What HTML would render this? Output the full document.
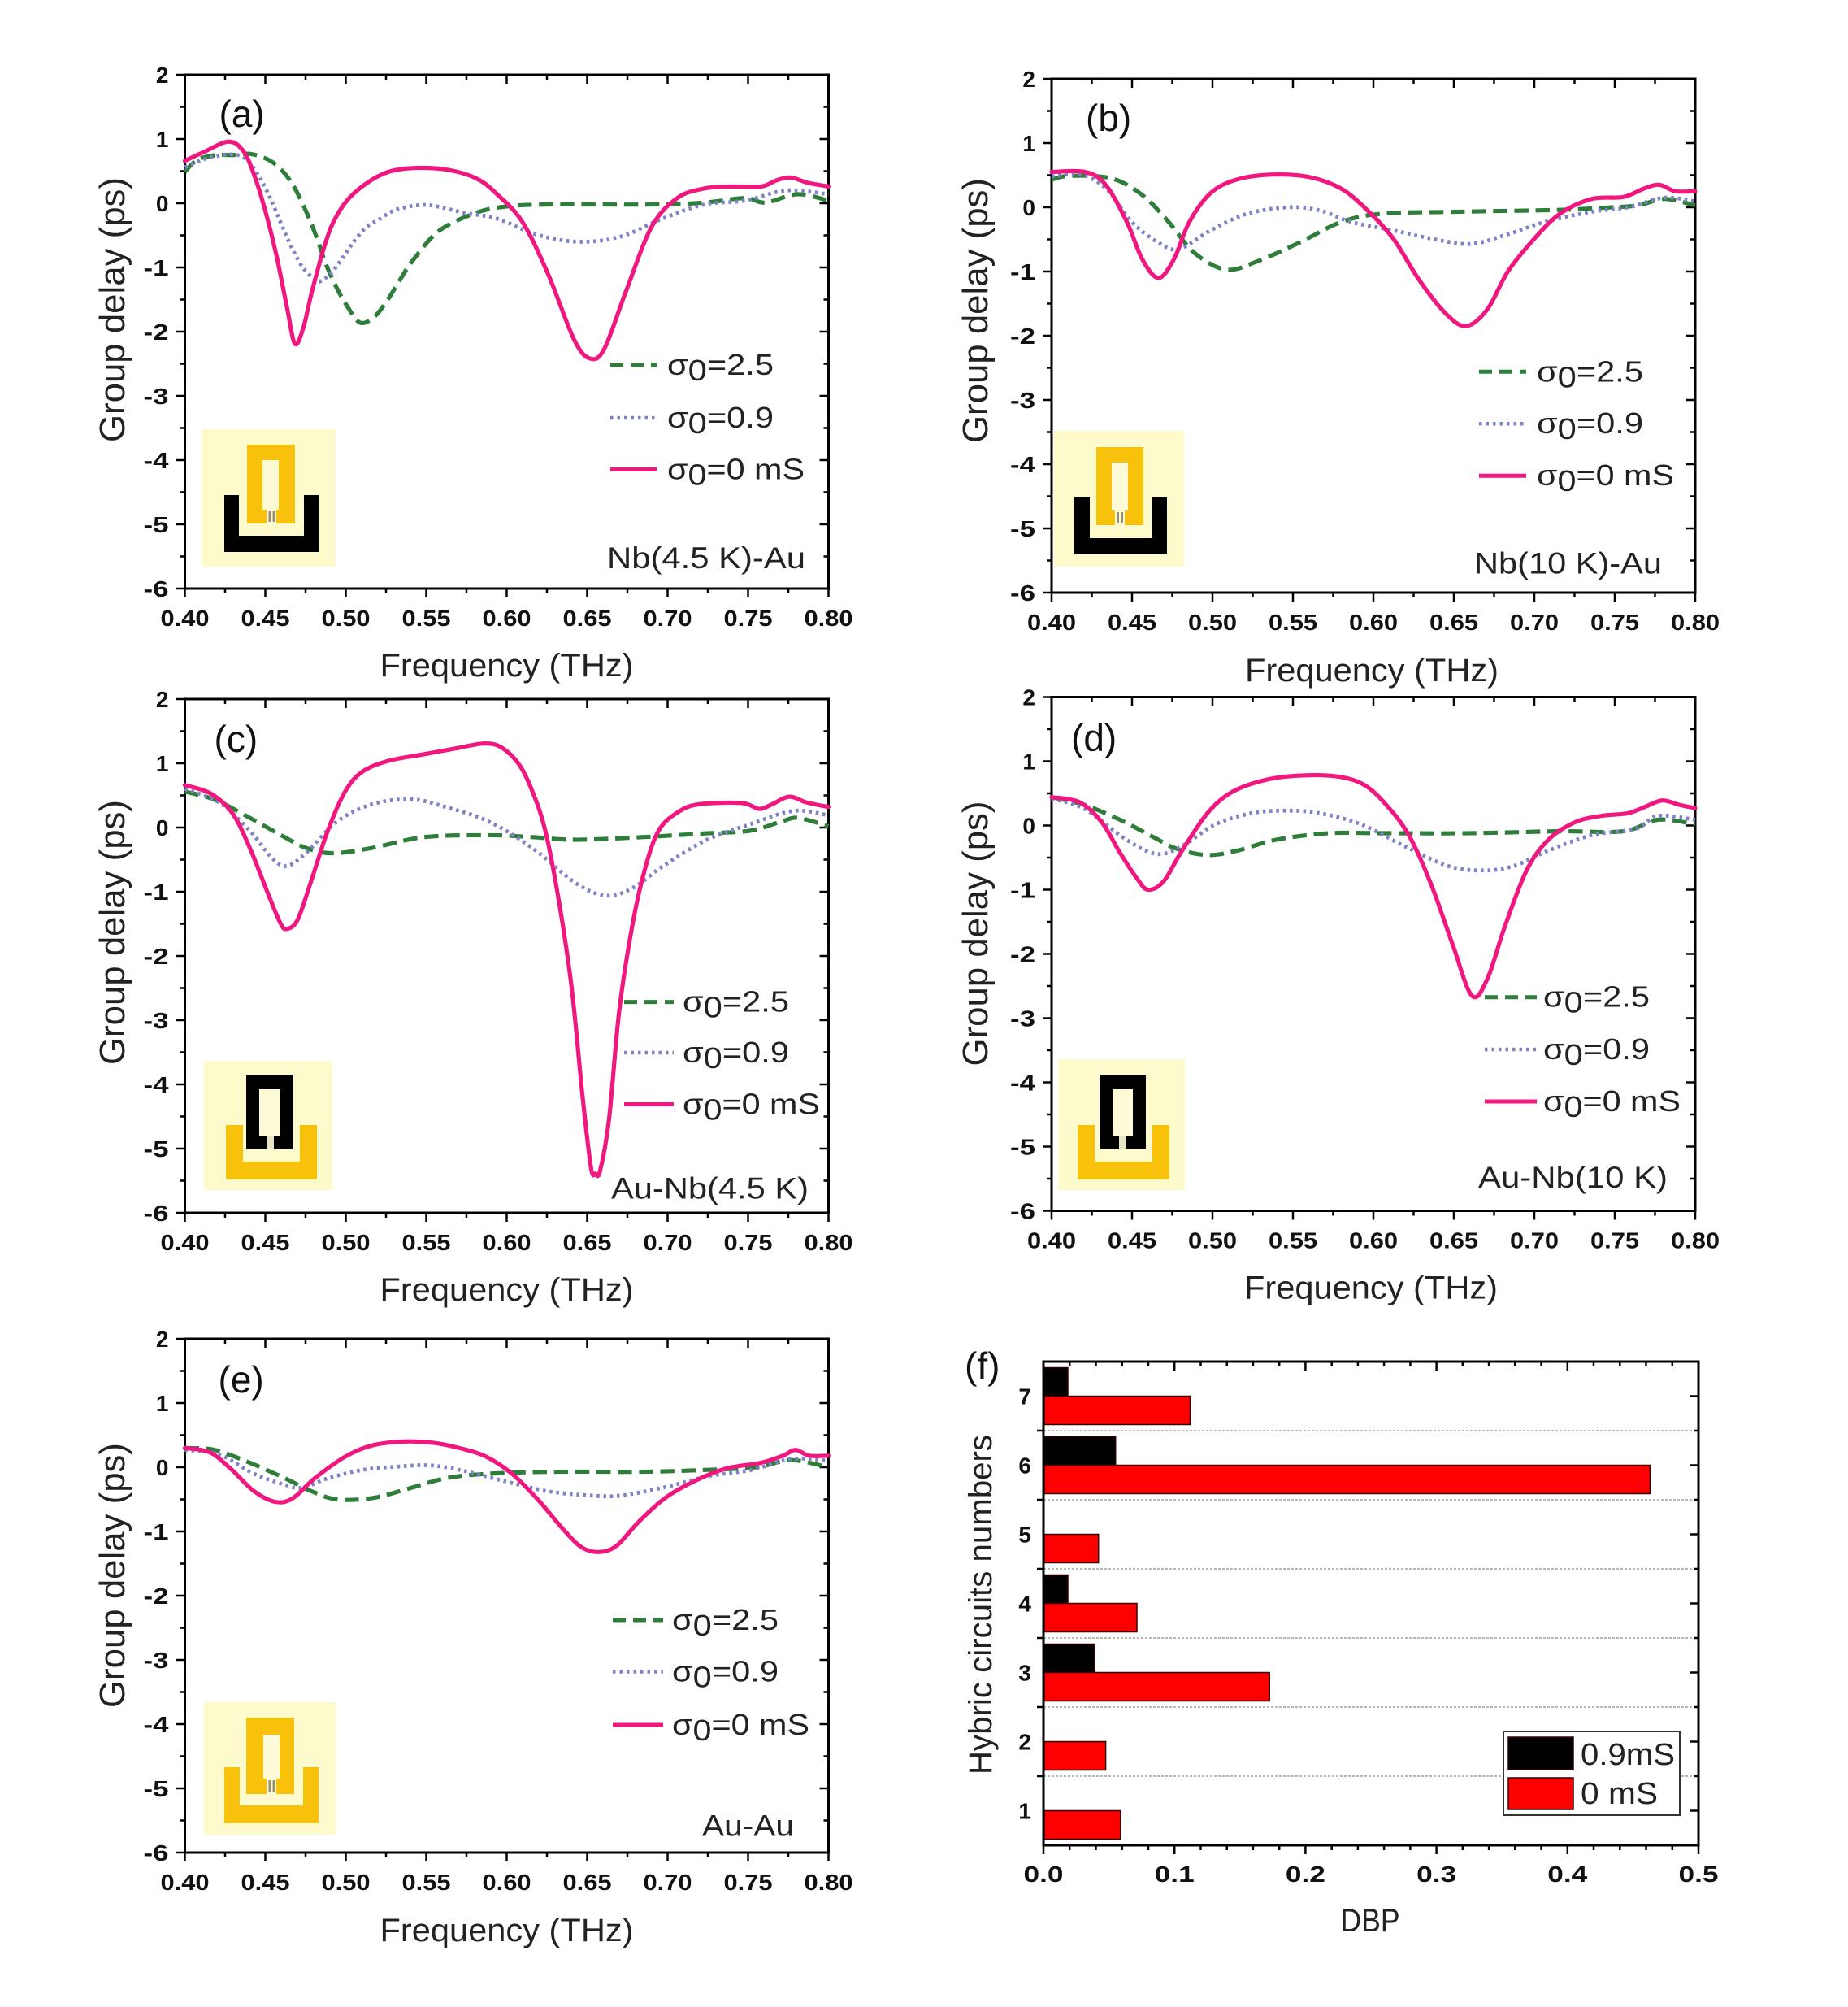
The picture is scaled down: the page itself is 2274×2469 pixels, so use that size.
<!DOCTYPE html>
<html><head><meta charset="utf-8"><style>
html,body{margin:0;padding:0;background:#fff}
svg{display:block}
.tk{font-family:"Liberation Sans",Arial,sans-serif;font-weight:bold;font-size:28px;fill:#111}
.ax{font-family:"Liberation Sans",Arial,sans-serif;font-size:40px;fill:#222}
.lb{font-family:"Liberation Sans",Arial,sans-serif;font-size:46px;fill:#111}
.an{font-family:"Liberation Sans",Arial,sans-serif;font-size:37px;fill:#222}
.lg{font-family:"Liberation Sans",Arial,sans-serif;font-size:36px;fill:#222}
.pk{fill:none;stroke:#f0177f;stroke-width:6.5;stroke-linejoin:round;stroke-linecap:round}
.gr{fill:none;stroke:#2f7d3b;stroke-width:6.5;stroke-dasharray:22 11;stroke-linejoin:round}
.bl{fill:none;stroke:#7f83c4;stroke-width:6;stroke-dasharray:4.5 6;stroke-linejoin:round}
.lpk{stroke:#f0177f;stroke-width:5}
.lgr{stroke:#2f7d3b;stroke-width:5;stroke-dasharray:16 9}
.lbl{stroke:#7f83c4;stroke-width:4.5;stroke-dasharray:3.5 5}
</style></head><body>
<svg xmlns="http://www.w3.org/2000/svg" xmlns:xlink="http://www.w3.org/1999/xlink" width="2274" height="2469" viewBox="0 0 2274 2469">
<defs>
<g id="fr">
<rect x="0" y="0" width="792" height="632" fill="none" stroke="#000" stroke-width="3"/>
<path fill="none" stroke="#000" stroke-width="2.5" d="M-11 0H0M-11 79H0M-11 158H0M-11 237H0M-11 316H0M-11 395H0M-11 474H0M-11 553H0M-11 632H0
M-6 39.5H0M-6 118.5H0M-6 197.5H0M-6 276.5H0M-6 355.5H0M-6 434.5H0M-6 513.5H0M-6 592.5H0
M781 79H792M781 158H792M781 237H792M781 316H792M781 395H792M781 474H792M781 553H792
M786 39.5H792M786 118.5H792M786 197.5H792M786 276.5H792M786 355.5H792M786 434.5H792M786 513.5H792M786 592.5H792
M0 632V643M99 632V643M198 632V643M297 632V643M396 632V643M495 632V643M594 632V643M693 632V643M792 632V643
M49.5 632V638M148.5 632V638M247.5 632V638M346.5 632V638M445.5 632V638M544.5 632V638M643.5 632V638M742.5 632V638
M99 0V11M198 0V11M297 0V11M396 0V11M495 0V11M594 0V11M693 0V11
M49.5 0V6M148.5 0V6M247.5 0V6M346.5 0V6M445.5 0V6M544.5 0V6M643.5 0V6M742.5 0V6"/>
</g>
</defs>

<!-- ================= PANEL (a) ================= -->
<g transform="translate(227.5,92)">
<use xlink:href="#fr"/>
<g class="tk">
<text x="-20" y="10" text-anchor="end">2</text>
<text x="-20" y="89" text-anchor="end">1</text>
<text x="-20" y="168" text-anchor="end">0</text>
<text x="-20" y="247" text-anchor="end" textLength="31" lengthAdjust="spacingAndGlyphs">-1</text>
<text x="-20" y="326" text-anchor="end" textLength="31" lengthAdjust="spacingAndGlyphs">-2</text>
<text x="-20" y="405" text-anchor="end" textLength="31" lengthAdjust="spacingAndGlyphs">-3</text>
<text x="-20" y="484" text-anchor="end" textLength="31" lengthAdjust="spacingAndGlyphs">-4</text>
<text x="-20" y="563" text-anchor="end" textLength="31" lengthAdjust="spacingAndGlyphs">-5</text>
<text x="-20" y="642" text-anchor="end" textLength="31" lengthAdjust="spacingAndGlyphs">-6</text>
<text x="-30" y="678" textLength="60" lengthAdjust="spacingAndGlyphs">0.40</text>
<text x="69" y="678" textLength="60" lengthAdjust="spacingAndGlyphs">0.45</text>
<text x="168" y="678" textLength="60" lengthAdjust="spacingAndGlyphs">0.50</text>
<text x="267" y="678" textLength="60" lengthAdjust="spacingAndGlyphs">0.55</text>
<text x="366" y="678" textLength="60" lengthAdjust="spacingAndGlyphs">0.60</text>
<text x="465" y="678" textLength="60" lengthAdjust="spacingAndGlyphs">0.65</text>
<text x="564" y="678" textLength="60" lengthAdjust="spacingAndGlyphs">0.70</text>
<text x="663" y="678" textLength="60" lengthAdjust="spacingAndGlyphs">0.75</text>
<text x="762" y="678" textLength="60" lengthAdjust="spacingAndGlyphs">0.80</text>
</g>
<text class="ax" x="240" y="740" textLength="312" lengthAdjust="spacingAndGlyphs">Frequency (THz)</text>
<text class="ax" transform="translate(-74.5,289) rotate(-90)" x="-163" y="0" textLength="326" lengthAdjust="spacingAndGlyphs" style="font-size:44px">Group delay (ps)</text>
<text class="lb" x="42" y="64">(a)</text>
<text class="an" x="519.5" y="607" textLength="244" lengthAdjust="spacingAndGlyphs">Nb(4.5 K)-Au</text>
<line class="lgr" x1="523.5" y1="357" x2="580.5" y2="357"/>
<line class="lbl" x1="523.5" y1="422" x2="580.5" y2="422"/>
<line class="lpk" x1="523.5" y1="485.5" x2="580.5" y2="485.5"/>
<text class="lg" x="593.5" y="369" textLength="131" lengthAdjust="spacingAndGlyphs">σ<tspan dy="7">0</tspan><tspan dy="-7">=2.5</tspan></text>
<text class="lg" x="593.5" y="434" textLength="131" lengthAdjust="spacingAndGlyphs">σ<tspan dy="7">0</tspan><tspan dy="-7">=0.9</tspan></text>
<text class="lg" x="593.5" y="497.5" textLength="169" lengthAdjust="spacingAndGlyphs">σ<tspan dy="7">0</tspan><tspan dy="-7">=0 mS</tspan></text>
<g transform="translate(0,158) scale(0.792,0.79)">
<path class="gr" d="M0,-49 L20,-68 50,-75 75,-75 100,-77 125,-70 146,-56 167,-30 188,12 205,54 218,92 235,130 252,160 272,186 294,177 314,152 335,118 355,88 395,43 452,15 500,5 565,2 725,2 807,-1 870,-8 902,-1 952,-14 1000,-4"/>
<path class="bl" d="M0,-56 L28,-68 58,-75 83,-75 100,-64 117,-39 134,-5 150,33 167,71 184,101 201,118 209,122 226,110 243,88 260,63 281,38 302,25 323,12 344,6 365,3 387,4 435,15 485,24 547,49 612,60 677,52 742,24 807,2 870,-4 935,-20 1000,-14"/>
<path class="pk" d="M0,-66 L30,-80 68,-96 91,-81 108,-43 125,12 142,80 159,164 171,219 184,194 197,139 218,63 235,21 260,-13 302,-43 344,-54 402,-53 452,-39 485,-14 525,30 565,112 605,213 630,242 652,226 685,138 725,37 765,-8 807,-23 847,-26 895,-26 920,-36 942,-40 967,-32 1000,-26"/>
</g>
</g>
<!-- inset a -->
<rect x="248" y="528" width="165" height="169" fill="#fdfacb"/>
<rect x="304" y="547" width="59" height="97" fill="#f8c10c"/>
<rect x="323" y="566" width="20" height="61" fill="#fdfad8"/>
<rect x="328" y="627" width="12" height="17" fill="#fdfad8"/>
<rect x="330.5" y="629" width="2.5" height="13" fill="#9a8f6a"/>
<rect x="335.5" y="629" width="2.5" height="13" fill="#9a8f6a"/>
<path d="M276,609 H294 V659 H374 V609 H392 V679 H276 Z" fill="#000"/>

<!-- ================= PANEL (b) ================= -->
<g transform="translate(1294,97)">
<use xlink:href="#fr"/>
<g class="tk">
<text x="-20" y="10" text-anchor="end">2</text>
<text x="-20" y="89" text-anchor="end">1</text>
<text x="-20" y="168" text-anchor="end">0</text>
<text x="-20" y="247" text-anchor="end" textLength="31" lengthAdjust="spacingAndGlyphs">-1</text>
<text x="-20" y="326" text-anchor="end" textLength="31" lengthAdjust="spacingAndGlyphs">-2</text>
<text x="-20" y="405" text-anchor="end" textLength="31" lengthAdjust="spacingAndGlyphs">-3</text>
<text x="-20" y="484" text-anchor="end" textLength="31" lengthAdjust="spacingAndGlyphs">-4</text>
<text x="-20" y="563" text-anchor="end" textLength="31" lengthAdjust="spacingAndGlyphs">-5</text>
<text x="-20" y="642" text-anchor="end" textLength="31" lengthAdjust="spacingAndGlyphs">-6</text>
<text x="-30" y="678" textLength="60" lengthAdjust="spacingAndGlyphs">0.40</text>
<text x="69" y="678" textLength="60" lengthAdjust="spacingAndGlyphs">0.45</text>
<text x="168" y="678" textLength="60" lengthAdjust="spacingAndGlyphs">0.50</text>
<text x="267" y="678" textLength="60" lengthAdjust="spacingAndGlyphs">0.55</text>
<text x="366" y="678" textLength="60" lengthAdjust="spacingAndGlyphs">0.60</text>
<text x="465" y="678" textLength="60" lengthAdjust="spacingAndGlyphs">0.65</text>
<text x="564" y="678" textLength="60" lengthAdjust="spacingAndGlyphs">0.70</text>
<text x="663" y="678" textLength="60" lengthAdjust="spacingAndGlyphs">0.75</text>
<text x="762" y="678" textLength="60" lengthAdjust="spacingAndGlyphs">0.80</text>
</g>
<text class="ax" x="238" y="741" textLength="312" lengthAdjust="spacingAndGlyphs">Frequency (THz)</text>
<text class="ax" transform="translate(-79,285) rotate(-90)" x="-163" y="0" textLength="326" lengthAdjust="spacingAndGlyphs" style="font-size:44px">Group delay (ps)</text>
<text class="lb" x="42" y="64">(b)</text>
<text class="an" x="520" y="608.5" textLength="231" lengthAdjust="spacingAndGlyphs">Nb(10 K)-Au</text>
<line class="lgr" x1="526" y1="360.3" x2="584" y2="360.3"/>
<line class="lbl" x1="526" y1="424.2" x2="584" y2="424.2"/>
<line class="lpk" x1="526" y1="488.2" x2="584" y2="488.2"/>
<text class="lg" x="597" y="372.3" textLength="131" lengthAdjust="spacingAndGlyphs">σ<tspan dy="7">0</tspan><tspan dy="-7">=2.5</tspan></text>
<text class="lg" x="597" y="436.2" textLength="131" lengthAdjust="spacingAndGlyphs">σ<tspan dy="7">0</tspan><tspan dy="-7">=0.9</tspan></text>
<text class="lg" x="597" y="500.2" textLength="169" lengthAdjust="spacingAndGlyphs">σ<tspan dy="7">0</tspan><tspan dy="-7">=0 mS</tspan></text>
<g transform="translate(0,158) scale(0.792,0.79)">
<path class="gr" d="M0,-43 L28,-49 93,-45 141,-19 182,23 222,71 271,97 320,84 385,55 450,23 514,10 628,7 790,4 871,0 912,-3 952,-13 1000,-3"/>
<path class="bl" d="M0,-48 L44,-51 85,-29 125,23 166,55 198,65 247,36 304,10 368,0 417,5 466,23 531,36 596,50 652,57 709,42 766,23 839,7 896,0 952,-15 1000,-9"/>
<path class="pk" d="M0,-55 L52,-55 84,-35 117,23 141,81 166,110 190,81 214,23 247,-22 287,-43 344,-51 401,-47 450,-29 490,4 531,49 571,113 612,165 644,185 677,159 709,100 750,49 790,10 839,-13 888,-16 920,-29 944,-35 969,-25 1000,-25"/>
</g>
</g>
<!-- inset b -->
<rect x="1297" y="530" width="160" height="167" fill="#fdfacb"/>
<rect x="1349" y="550" width="58" height="96" fill="#f8c10c"/>
<rect x="1368" y="569" width="20" height="59" fill="#fdfad8"/>
<rect x="1372" y="628" width="12" height="18" fill="#fdfad8"/>
<rect x="1374.5" y="630" width="2.5" height="14" fill="#9a8f6a"/>
<rect x="1379.5" y="630" width="2.5" height="14" fill="#9a8f6a"/>
<path d="M1322,612 H1341 V662 H1417 V612 H1436 V682 H1322 Z" fill="#000"/>

<!-- ================= PANEL (c) ================= -->
<g transform="translate(227.5,860)">
<use xlink:href="#fr"/>
<g class="tk">
<text x="-20" y="10" text-anchor="end">2</text>
<text x="-20" y="89" text-anchor="end">1</text>
<text x="-20" y="168" text-anchor="end">0</text>
<text x="-20" y="247" text-anchor="end" textLength="31" lengthAdjust="spacingAndGlyphs">-1</text>
<text x="-20" y="326" text-anchor="end" textLength="31" lengthAdjust="spacingAndGlyphs">-2</text>
<text x="-20" y="405" text-anchor="end" textLength="31" lengthAdjust="spacingAndGlyphs">-3</text>
<text x="-20" y="484" text-anchor="end" textLength="31" lengthAdjust="spacingAndGlyphs">-4</text>
<text x="-20" y="563" text-anchor="end" textLength="31" lengthAdjust="spacingAndGlyphs">-5</text>
<text x="-20" y="642" text-anchor="end" textLength="31" lengthAdjust="spacingAndGlyphs">-6</text>
<text x="-30" y="678" textLength="60" lengthAdjust="spacingAndGlyphs">0.40</text>
<text x="69" y="678" textLength="60" lengthAdjust="spacingAndGlyphs">0.45</text>
<text x="168" y="678" textLength="60" lengthAdjust="spacingAndGlyphs">0.50</text>
<text x="267" y="678" textLength="60" lengthAdjust="spacingAndGlyphs">0.55</text>
<text x="366" y="678" textLength="60" lengthAdjust="spacingAndGlyphs">0.60</text>
<text x="465" y="678" textLength="60" lengthAdjust="spacingAndGlyphs">0.65</text>
<text x="564" y="678" textLength="60" lengthAdjust="spacingAndGlyphs">0.70</text>
<text x="663" y="678" textLength="60" lengthAdjust="spacingAndGlyphs">0.75</text>
<text x="762" y="678" textLength="60" lengthAdjust="spacingAndGlyphs">0.80</text>
</g>
<text class="ax" x="240" y="740" textLength="312" lengthAdjust="spacingAndGlyphs">Frequency (THz)</text>
<text class="ax" transform="translate(-74.5,287) rotate(-90)" x="-163" y="0" textLength="326" lengthAdjust="spacingAndGlyphs" style="font-size:44px">Group delay (ps)</text>
<text class="lb" x="36" y="65">(c)</text>
<text class="an" x="524.5" y="614.7" textLength="243" lengthAdjust="spacingAndGlyphs">Au-Nb(4.5 K)</text>
<line class="lgr" x1="540.5" y1="372.6" x2="601.5" y2="372.6"/>
<line class="lbl" x1="540.5" y1="435" x2="601.5" y2="435"/>
<line class="lpk" x1="540.5" y1="498.5" x2="601.5" y2="498.5"/>
<text class="lg" x="612.5" y="384.6" textLength="131" lengthAdjust="spacingAndGlyphs">σ<tspan dy="7">0</tspan><tspan dy="-7">=2.5</tspan></text>
<text class="lg" x="612.5" y="447" textLength="131" lengthAdjust="spacingAndGlyphs">σ<tspan dy="7">0</tspan><tspan dy="-7">=0.9</tspan></text>
<text class="lg" x="612.5" y="510.5" textLength="169" lengthAdjust="spacingAndGlyphs">σ<tspan dy="7">0</tspan><tspan dy="-7">=0 mS</tspan></text>
<g transform="translate(0,158) scale(0.792,0.79)">
<path class="gr" d="M0,-56 L47,-43 101,-15 155,15 189,32 229,40 290,32 371,15 473,12 540,15 608,19 709,15 811,9 878,5 926,-9 953,-15 1000,-2"/>
<path class="bl" d="M0,-60 L53,-39 101,5 134,46 158,60 189,39 236,-9 290,-36 351,-44 405,-32 473,-9 540,32 608,87 655,106 696,94 743,60 811,19 878,-5 946,-26 1000,-19"/>
<path class="pk" d="M0,-66 L40,-53 74,-22 101,32 128,100 148,148 158,158 175,144 195,87 222,5 249,-56 276,-87 317,-104 371,-114 425,-124 466,-131 493,-124 520,-97 540,-56 560,5 581,114 601,250 618,420 631,530 638,539 645,535 659,454 675,284 696,148 716,60 736,5 763,-22 797,-36 865,-38 892,-29 912,-36 939,-48 966,-39 1000,-32"/>
</g>
</g>
<!-- inset c -->
<rect x="251" y="1305" width="158" height="159" fill="#fdfacb"/>
<path d="M278,1384 H299 V1429 H369 V1384 H390 V1451 H278 Z" fill="#f8c10c"/>
<rect x="303" y="1322" width="58" height="92" fill="#000"/>
<rect x="319" y="1340" width="26" height="58" fill="#fdfad8"/>
<rect x="328" y="1398" width="9" height="16" fill="#e8e4c8"/>

<!-- ================= PANEL (d) ================= -->
<g transform="translate(1294,857.5)">
<use xlink:href="#fr"/>
<g class="tk">
<text x="-20" y="10" text-anchor="end">2</text>
<text x="-20" y="89" text-anchor="end">1</text>
<text x="-20" y="168" text-anchor="end">0</text>
<text x="-20" y="247" text-anchor="end" textLength="31" lengthAdjust="spacingAndGlyphs">-1</text>
<text x="-20" y="326" text-anchor="end" textLength="31" lengthAdjust="spacingAndGlyphs">-2</text>
<text x="-20" y="405" text-anchor="end" textLength="31" lengthAdjust="spacingAndGlyphs">-3</text>
<text x="-20" y="484" text-anchor="end" textLength="31" lengthAdjust="spacingAndGlyphs">-4</text>
<text x="-20" y="563" text-anchor="end" textLength="31" lengthAdjust="spacingAndGlyphs">-5</text>
<text x="-20" y="642" text-anchor="end" textLength="31" lengthAdjust="spacingAndGlyphs">-6</text>
<text x="-30" y="678" textLength="60" lengthAdjust="spacingAndGlyphs">0.40</text>
<text x="69" y="678" textLength="60" lengthAdjust="spacingAndGlyphs">0.45</text>
<text x="168" y="678" textLength="60" lengthAdjust="spacingAndGlyphs">0.50</text>
<text x="267" y="678" textLength="60" lengthAdjust="spacingAndGlyphs">0.55</text>
<text x="366" y="678" textLength="60" lengthAdjust="spacingAndGlyphs">0.60</text>
<text x="465" y="678" textLength="60" lengthAdjust="spacingAndGlyphs">0.65</text>
<text x="564" y="678" textLength="60" lengthAdjust="spacingAndGlyphs">0.70</text>
<text x="663" y="678" textLength="60" lengthAdjust="spacingAndGlyphs">0.75</text>
<text x="762" y="678" textLength="60" lengthAdjust="spacingAndGlyphs">0.80</text>
</g>
<text class="ax" x="237" y="740" textLength="312" lengthAdjust="spacingAndGlyphs">Frequency (THz)</text>
<text class="ax" transform="translate(-79,291) rotate(-90)" x="-163" y="0" textLength="326" lengthAdjust="spacingAndGlyphs" style="font-size:44px">Group delay (ps)</text>
<text class="lb" x="24" y="66">(d)</text>
<text class="an" x="525" y="603.5" textLength="233" lengthAdjust="spacingAndGlyphs">Au-Nb(10 K)</text>
<line class="lgr" x1="533" y1="369.2" x2="597" y2="369.2"/>
<line class="lbl" x1="533" y1="433.5" x2="597" y2="433.5"/>
<line class="lpk" x1="533" y1="497.5" x2="597" y2="497.5"/>
<text class="lg" x="605" y="381.2" textLength="131" lengthAdjust="spacingAndGlyphs">σ<tspan dy="7">0</tspan><tspan dy="-7">=2.5</tspan></text>
<text class="lg" x="605" y="445.5" textLength="131" lengthAdjust="spacingAndGlyphs">σ<tspan dy="7">0</tspan><tspan dy="-7">=0.9</tspan></text>
<text class="lg" x="605" y="509.5" textLength="169" lengthAdjust="spacingAndGlyphs">σ<tspan dy="7">0</tspan><tspan dy="-7">=0 mS</tspan></text>
<g transform="translate(0,158) scale(0.792,0.79)">
<path class="gr" d="M0,-44 L51,-32 106,-9 160,19 194,36 242,46 289,39 350,22 432,12 514,12 650,12 786,9 888,9 942,-9 1000,-2"/>
<path class="bl" d="M0,-42 L51,-26 106,15 146,39 174,44 208,29 255,-2 310,-19 357,-23 412,-20 480,-2 548,32 616,63 670,70 718,63 772,39 840,15 908,5 942,-15 1000,-9"/>
<path class="pk" d="M0,-44 L44,-36 78,-5 106,42 133,83 150,100 174,87 201,42 242,-19 282,-53 337,-72 391,-78 446,-76 486,-63 520,-32 555,15 589,90 623,185 653,265 677,239 704,158 738,70 772,22 813,-5 854,-15 895,-19 922,-29 949,-39 976,-32 1000,-27"/>
</g>
</g>
<!-- inset d -->
<rect x="1302" y="1303" width="156" height="161" fill="#fdfacb"/>
<path d="M1326,1384 H1347 V1429 H1418 V1384 H1439 V1451 H1326 Z" fill="#f8c10c"/>
<rect x="1353" y="1322" width="57" height="92" fill="#000"/>
<rect x="1369" y="1340" width="25" height="58" fill="#fdfad8"/>
<rect x="1377" y="1398" width="9" height="16" fill="#e8e4c8"/>

<!-- ================= PANEL (e) ================= -->
<g transform="translate(227.5,1647)">
<use xlink:href="#fr"/>
<g class="tk">
<text x="-20" y="10" text-anchor="end">2</text>
<text x="-20" y="89" text-anchor="end">1</text>
<text x="-20" y="168" text-anchor="end">0</text>
<text x="-20" y="247" text-anchor="end" textLength="31" lengthAdjust="spacingAndGlyphs">-1</text>
<text x="-20" y="326" text-anchor="end" textLength="31" lengthAdjust="spacingAndGlyphs">-2</text>
<text x="-20" y="405" text-anchor="end" textLength="31" lengthAdjust="spacingAndGlyphs">-3</text>
<text x="-20" y="484" text-anchor="end" textLength="31" lengthAdjust="spacingAndGlyphs">-4</text>
<text x="-20" y="563" text-anchor="end" textLength="31" lengthAdjust="spacingAndGlyphs">-5</text>
<text x="-20" y="642" text-anchor="end" textLength="31" lengthAdjust="spacingAndGlyphs">-6</text>
<text x="-30" y="678" textLength="60" lengthAdjust="spacingAndGlyphs">0.40</text>
<text x="69" y="678" textLength="60" lengthAdjust="spacingAndGlyphs">0.45</text>
<text x="168" y="678" textLength="60" lengthAdjust="spacingAndGlyphs">0.50</text>
<text x="267" y="678" textLength="60" lengthAdjust="spacingAndGlyphs">0.55</text>
<text x="366" y="678" textLength="60" lengthAdjust="spacingAndGlyphs">0.60</text>
<text x="465" y="678" textLength="60" lengthAdjust="spacingAndGlyphs">0.65</text>
<text x="564" y="678" textLength="60" lengthAdjust="spacingAndGlyphs">0.70</text>
<text x="663" y="678" textLength="60" lengthAdjust="spacingAndGlyphs">0.75</text>
<text x="762" y="678" textLength="60" lengthAdjust="spacingAndGlyphs">0.80</text>
</g>
<text class="ax" x="240" y="741" textLength="312" lengthAdjust="spacingAndGlyphs">Frequency (THz)</text>
<text class="ax" transform="translate(-74.5,291) rotate(-90)" x="-163" y="0" textLength="326" lengthAdjust="spacingAndGlyphs" style="font-size:44px">Group delay (ps)</text>
<text class="lb" x="41" y="66">(e)</text>
<text class="an" x="636.5" y="611.5" textLength="113" lengthAdjust="spacingAndGlyphs">Au-Au</text>
<line class="lgr" x1="526.5" y1="346" x2="588.5" y2="346"/>
<line class="lbl" x1="526.5" y1="409.5" x2="588.5" y2="409.5"/>
<line class="lpk" x1="526.5" y1="475" x2="588.5" y2="475"/>
<text class="lg" x="599.5" y="358" textLength="131" lengthAdjust="spacingAndGlyphs">σ<tspan dy="7">0</tspan><tspan dy="-7">=2.5</tspan></text>
<text class="lg" x="599.5" y="421.5" textLength="131" lengthAdjust="spacingAndGlyphs">σ<tspan dy="7">0</tspan><tspan dy="-7">=0.9</tspan></text>
<text class="lg" x="599.5" y="487" textLength="169" lengthAdjust="spacingAndGlyphs">σ<tspan dy="7">0</tspan><tspan dy="-7">=0 mS</tspan></text>
<g transform="translate(0,158) scale(0.792,0.79)">
<path class="gr" d="M0,-30 L46,-27 101,-7 155,17 196,37 236,50 291,48 345,34 406,17 474,10 576,7 712,7 813,4 888,0 942,-11 1000,0"/>
<path class="bl" d="M0,-27 L53,-20 107,10 155,27 182,32 223,17 277,4 331,-1 379,-3 426,4 494,21 562,37 630,44 678,44 746,31 813,14 881,4 942,-13 1000,-10"/>
<path class="pk" d="M0,-30 L39,-23 73,4 107,37 141,54 168,48 202,17 250,-17 291,-34 338,-40 386,-38 426,-30 467,-17 508,10 549,51 589,98 617,125 644,132 671,122 705,85 746,48 793,21 841,2 895,-7 929,-18 949,-27 970,-18 1000,-18"/>
</g>
</g>
<!-- inset e -->
<rect x="251" y="2094" width="163" height="163" fill="#fdfacb"/>
<rect x="303" y="2113" width="59" height="94" fill="#f8c10c"/>
<rect x="324" y="2134" width="20" height="54" fill="#fdfad8"/>
<rect x="328" y="2188" width="12" height="19" fill="#fdfad8"/>
<rect x="330.5" y="2190" width="2.5" height="15" fill="#9a8f6a"/>
<rect x="335.5" y="2190" width="2.5" height="15" fill="#9a8f6a"/>
<path d="M276,2174 H295 V2221 H373 V2174 H392 V2243 H276 Z" fill="#f8c10c"/>

<!-- ================= PANEL (f) ================= -->
<g>
<path fill="none" stroke="#b8b8b8" stroke-width="2" stroke-dasharray="3 2" d="M1284 1760H2090M1284 1845H2090M1284 1930H2090M1284 2015H2090M1284 2100H2090M1284 2185H2090"/>
<g stroke="#300" stroke-width="1.5">
<rect x="1285" y="1682.5" width="29" height="35" fill="#000"/>
<rect x="1285" y="1717.5" width="179.5" height="35" fill="#ff0000"/>
<rect x="1285" y="1767.5" width="87.7" height="35" fill="#000"/>
<rect x="1285" y="1802.5" width="745.4" height="35" fill="#ff0000"/>
<rect x="1285" y="1887.5" width="66.7" height="35" fill="#ff0000"/>
<rect x="1285" y="1937.5" width="29" height="35" fill="#000"/>
<rect x="1285" y="1972.5" width="114" height="35" fill="#ff0000"/>
<rect x="1285" y="2022.5" width="61.9" height="35" fill="#000"/>
<rect x="1285" y="2057.5" width="277.2" height="35" fill="#ff0000"/>
<rect x="1285" y="2142.5" width="75.6" height="35" fill="#ff0000"/>
<rect x="1285" y="2227.5" width="93.8" height="35" fill="#ff0000"/>
</g>
<rect x="1284" y="1675" width="806" height="595" fill="none" stroke="#000" stroke-width="3"/>
<path fill="none" stroke="#000" stroke-width="2.5" d="M1284 2270V2281M1445.2 2270V2281M1606.4 2270V2281M1767.6 2270V2281M1928.8 2270V2281M2090 2270V2281
M1445.2 1675V1686M1606.4 1675V1686M1767.6 1675V1686M1928.8 1675V1686
M1316.2 2270V2276M1348.5 2270V2276M1380.7 2270V2276M1413 2270V2276M1477.5 2270V2276M1509.7 2270V2276M1541.9 2270V2276M1574.2 2270V2276M1638.7 2270V2276M1670.9 2270V2276M1703.1 2270V2276M1735.4 2270V2276M1799.8 2270V2276M1832.1 2270V2276M1864.3 2270V2276M1896.6 2270V2276M1961 2270V2276M1993.3 2270V2276M2025.5 2270V2276M2057.8 2270V2276
M1316.2 1675V1681M1348.5 1675V1681M1380.7 1675V1681M1413 1675V1681M1477.5 1675V1681M1509.7 1675V1681M1541.9 1675V1681M1574.2 1675V1681M1638.7 1675V1681M1670.9 1675V1681M1703.1 1675V1681M1735.4 1675V1681M1799.8 1675V1681M1832.1 1675V1681M1864.3 1675V1681M1896.6 1675V1681M1961 1675V1681M1993.3 1675V1681M2025.5 1675V1681M2057.8 1675V1681
M1276 1760H1284M1276 1845H1284M1276 1930H1284M1276 2015H1284M1276 2100H1284M1276 2185H1284
M2080 1717.5H2090M2080 1802.5H2090M2080 1887.5H2090M2080 1972.5H2090M2080 2057.5H2090M2080 2142.5H2090M2080 2227.5H2090
M2085 1760H2090M2085 1845H2090M2085 1930H2090M2085 2015H2090M2085 2100H2090M2085 2185H2090"/>
<g class="tk">
<text x="1269" y="1727.5" text-anchor="end">7</text>
<text x="1269" y="1812.5" text-anchor="end">6</text>
<text x="1269" y="1897.5" text-anchor="end">5</text>
<text x="1269" y="1982.5" text-anchor="end">4</text>
<text x="1269" y="2067.5" text-anchor="end">3</text>
<text x="1269" y="2152.5" text-anchor="end">2</text>
<text x="1269" y="2237.5" text-anchor="end">1</text>
<text x="1259.5" y="2315" textLength="49" lengthAdjust="spacingAndGlyphs">0.0</text>
<text x="1420.7" y="2315" textLength="49" lengthAdjust="spacingAndGlyphs">0.1</text>
<text x="1581.9" y="2315" textLength="49" lengthAdjust="spacingAndGlyphs">0.2</text>
<text x="1743.1" y="2315" textLength="49" lengthAdjust="spacingAndGlyphs">0.3</text>
<text x="1904.3" y="2315" textLength="49" lengthAdjust="spacingAndGlyphs">0.4</text>
<text x="2065.5" y="2315" textLength="49" lengthAdjust="spacingAndGlyphs">0.5</text>
</g>
<text class="ax" x="1649.5" y="2376" textLength="73" lengthAdjust="spacingAndGlyphs">DBP</text>
<text class="ax" transform="translate(1220,1974) rotate(-90)" x="-209" y="0" textLength="418" lengthAdjust="spacingAndGlyphs">Hybric circuits numbers</text>
<text class="lb" x="1187" y="1696">(f)</text>
<rect x="1850" y="2130" width="217" height="103" fill="#fff" stroke="#333" stroke-width="2"/>
<rect x="1856" y="2137" width="80" height="40" fill="#000" stroke="#300" stroke-width="1.5"/>
<rect x="1856" y="2187" width="80" height="39" fill="#ff0000" stroke="#300" stroke-width="1.5"/>
<text class="ax" x="1945" y="2171" textLength="116" lengthAdjust="spacingAndGlyphs" style="font-size:38px">0.9mS</text>
<text class="ax" x="1945" y="2219" textLength="95" lengthAdjust="spacingAndGlyphs" style="font-size:38px">0 mS</text>
</g>
</svg>
<script>
(function(){
  var ps=document.querySelectorAll('path.pk,path.gr,path.bl');
  for(var i=0;i<ps.length;i++){
    var d=ps[i].getAttribute('d');
    var n=d.match(/-?\d*\.?\d+/g);
    if(!n||n.length<6) continue;
    var p=[];
    for(var j=0;j+1<n.length;j+=2){p.push([parseFloat(n[j]),parseFloat(n[j+1])]);}
    var s='M'+p[0][0]+','+p[0][1];
    for(var k=0;k<p.length-1;k++){
      var p0=p[k>0?k-1:k],p1=p[k],p2=p[k+1],p3=p[k+2<p.length?k+2:k+1];
      var c1x=p1[0]+(p2[0]-p0[0])/6,c1y=p1[1]+(p2[1]-p0[1])/6;
      var c2x=p2[0]-(p3[0]-p1[0])/6,c2y=p2[1]-(p3[1]-p1[1])/6;
      s+=' C'+c1x.toFixed(2)+','+c1y.toFixed(2)+' '+c2x.toFixed(2)+','+c2y.toFixed(2)+' '+p2[0]+','+p2[1];
    }
    ps[i].setAttribute('d',s);
  }
})();
</script>
</body></html>
